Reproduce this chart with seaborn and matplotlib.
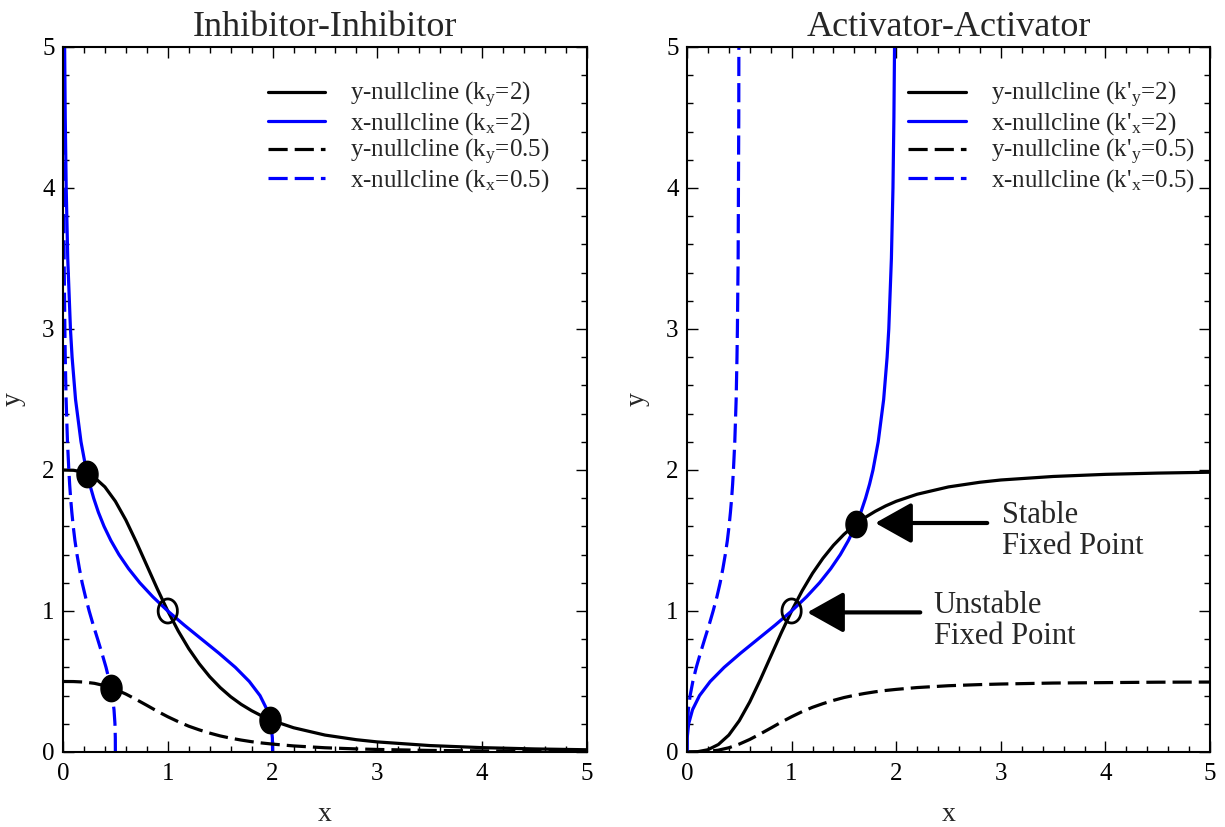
import numpy as np
import matplotlib
matplotlib.use("Agg")
import matplotlib.pyplot as plt
from matplotlib.ticker import MultipleLocator
from matplotlib.path import Path
import seaborn as sns

# ---- data ----
grid = [0, 0.1, 0.2, 0.3, 0.4, 0.5, 0.6, 0.7, 0.8, 0.9, 1.0, 1.1, 1.2, 1.3, 1.4,
        1.5, 1.6, 1.7, 1.8, 1.9, 2.0, 2.2, 2.5, 2.8, 3.0, 3.5, 4.0, 4.5, 5.0]

# Inhibitor-Inhibitor: repression curves (k=2 and k=0.5)
inh_k2 = [2.0, 1.998, 1.984, 1.947, 1.880, 1.778, 1.645, 1.489, 1.323, 1.157, 1.0,
          0.858, 0.733, 0.626, 0.534, 0.457, 0.392, 0.338, 0.293, 0.2545, 0.222,
          0.172, 0.120, 0.0871, 0.0714, 0.0456, 0.0308, 0.0217, 0.0159]
inh_k05 = [0.5, 0.4995, 0.496, 0.487, 0.470, 0.444, 0.411, 0.372, 0.331, 0.289, 0.25,
           0.215, 0.183, 0.157, 0.134, 0.114, 0.098, 0.0846, 0.073, 0.0636, 0.056,
           0.043, 0.030, 0.0218, 0.018, 0.011, 0.0077, 0.0054, 0.0040]

# Activator-Activator: activation curves (k'=2 and k'=0.5)
act_k2 = [0.0, 0.002, 0.016, 0.053, 0.120, 0.222, 0.355, 0.511, 0.677, 0.843, 1.0,
          1.142, 1.267, 1.374, 1.466, 1.543, 1.608, 1.662, 1.707, 1.7455, 1.778,
          1.828, 1.880, 1.913, 1.929, 1.954, 1.969, 1.978, 1.984]
act_k05 = [0.0, 0.0005, 0.004, 0.013, 0.030, 0.056, 0.089, 0.128, 0.169, 0.211, 0.25,
           0.286, 0.317, 0.343, 0.366, 0.386, 0.402, 0.4154, 0.427, 0.4364, 0.444,
           0.457, 0.470, 0.478, 0.482, 0.489, 0.492, 0.495, 0.496]

# fixed points
inh_stable_x = [0.23, 1.975, 0.456]
inh_stable_y = [1.975, 0.23, 0.456]
inh_unstable_x = [1.0]
inh_unstable_y = [1.0]
act_stable_x = [1.618]
act_stable_y = [1.618]
act_unstable_x = [1.0]
act_unstable_y = [1.0]

titles = ["Inhibitor-Inhibitor", "Activator-Activator"]
labels_inh = ["y-nullcline (k$_y$=2)", "x-nullcline (k$_x$=2)",
              "y-nullcline (k$_y$=0.5)", "x-nullcline (k$_x$=0.5)"]
labels_act = ["y-nullcline (k'$_y$=2)", "x-nullcline (k'$_x$=2)",
              "y-nullcline (k'$_y$=0.5)", "x-nullcline (k'$_x$=0.5)"]

# ---- style ----
sns.set_theme(style="ticks")
plt.rcParams["font.family"] = ["Liberation Serif", "DejaVu Serif"]
plt.rcParams["mathtext.default"] = "regular"
plt.rcParams["axes.linewidth"] = 1.5

fig = plt.figure(figsize=(12.25, 8.27), dpi=100)
axL = fig.add_axes([0.0514, 0.0907, 0.4278, 0.8525])
axR = fig.add_axes([0.5608, 0.0907, 0.4270, 0.8525])

LW = 2.3
DASH = (0, (6, 2.2))
theta = np.linspace(0, 2 * np.pi, 60)
ell = Path(np.column_stack([0.8 * np.cos(theta), np.sin(theta)]))


def draw(ax, ycurve2, ycurve05, labels):
    sns.lineplot(x=grid, y=ycurve2, ax=ax, color="black", lw=LW, sort=False,
                 estimator=None, label=labels[0])
    sns.lineplot(x=ycurve2, y=grid, ax=ax, color="blue", lw=LW, sort=False,
                 estimator=None, label=labels[1])
    sns.lineplot(x=grid, y=ycurve05, ax=ax, color="black", lw=LW, sort=False,
                 estimator=None, label=labels[2], linestyle=DASH)
    sns.lineplot(x=ycurve05, y=grid, ax=ax, color="blue", lw=LW, sort=False,
                 estimator=None, label=labels[3], linestyle=DASH)


def style(ax, title, leg_x):
    ax.set_xlim(0, 5)
    ax.set_ylim(0, 5)
    ax.xaxis.set_major_locator(MultipleLocator(1))
    ax.yaxis.set_major_locator(MultipleLocator(1))
    ax.xaxis.set_minor_locator(MultipleLocator(0.2))
    ax.yaxis.set_minor_locator(MultipleLocator(0.2))
    ax.tick_params(which="both", direction="in", top=True, right=True,
                   width=1.0, colors="black", labelsize=18)
    ax.tick_params(which="major", length=8)
    ax.tick_params(which="minor", length=4.5)
    ax.tick_params(axis="x", pad=8)
    ax.tick_params(axis="y", pad=6)
    ax.set_title(title, fontsize=26, pad=8)
    ax.set_xlabel("x", fontsize=20, labelpad=12)
    ax.set_ylabel("y", fontsize=20, labelpad=12)
    for s in ax.spines.values():
        s.set_linewidth(1.5)
        s.set_color("black")
    ax.legend(loc="upper left", bbox_to_anchor=(leg_x, 0.953), frameon=False,
              fontsize=18, handlelength=2.3, handletextpad=1.0,
              labelspacing=0.0, borderpad=0, borderaxespad=0)


draw(axL, inh_k2, inh_k05, labels_inh)
axL.scatter(inh_stable_x, inh_stable_y, marker=ell, s=360, color="black", zorder=5)
axL.scatter(inh_unstable_x, inh_unstable_y, marker=ell, s=300, facecolor="none",
            edgecolor="black", linewidth=2.0, zorder=5)
style(axL, titles[0], 0.391)

draw(axR, act_k2, act_k05, labels_act)
axR.scatter(act_stable_x, act_stable_y, marker=ell, s=360, color="black", zorder=5)
axR.scatter(act_unstable_x, act_unstable_y, marker=ell, s=300, facecolor="none",
            edgecolor="black", linewidth=2.0, zorder=5)
style(axR, titles[1], 0.4226)

arrow = dict(arrowstyle="-|>,head_length=1.25,head_width=0.7", color="black",
             lw=3, mutation_scale=18, shrinkA=0, shrinkB=0)
axR.annotate("", xy=(1.80, 1.624), xytext=(2.87, 1.624), arrowprops=arrow)
axR.text(3.01, 1.565, "Stable\nFixed Point", fontsize=22, ha="left", va="center",
         linespacing=1.1)
axR.annotate("", xy=(1.15, 0.99), xytext=(2.23, 0.99), arrowprops=arrow)
axR.text(2.36, 0.93, "Unstable\nFixed Point", fontsize=22, ha="left", va="center",
         linespacing=1.1)

fig.savefig("out.png", dpi=100)
